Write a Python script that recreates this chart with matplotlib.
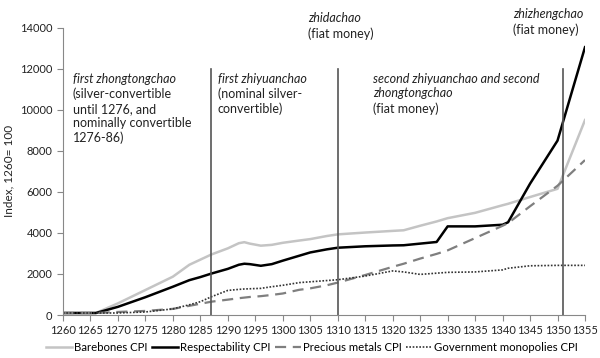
import matplotlib
matplotlib.use('Agg')
import matplotlib.pyplot as plt

plt.rcParams['font.family'] = ['Lato', 'DejaVu Sans']

# Data (index, 1260 = 100)
years = [1260, 1266, 1270, 1275, 1280, 1283, 1285, 1287, 1290, 1292, 1293, 1294, 1296,
         1298, 1300, 1303, 1305, 1308, 1310, 1315, 1320, 1322, 1325, 1328, 1330, 1335,
         1340, 1341, 1345, 1350, 1355]
barebones = [100, 100, 570, 1220, 1870, 2450, 2700, 2950, 3250, 3500, 3550, 3480, 3380,
             3420, 3520, 3630, 3700, 3850, 3930, 4020, 4100, 4130, 4350, 4560, 4720, 4980,
             5350, 5420, 5750, 6150, 9500]
respectability = [100, 100, 400, 870, 1380, 1700, 1850, 2020, 2250, 2450, 2500, 2480, 2400,
                  2480, 2650, 2890, 3050, 3200, 3280, 3350, 3390, 3400, 3480, 3560, 4320, 4320,
                  4400, 4520, 6400, 8500, 13050]
precious = [100, 100, 150, 200, 300, 450, 550, 650, 750, 820, 850, 880, 920,
            980, 1050, 1230, 1300, 1450, 1580, 1950, 2350, 2500, 2750, 2980, 3150, 3750,
            4350, 4480, 5300, 6300, 7550]
monopolies = [100, 100, 100, 150, 300, 500, 650, 890, 1200, 1250, 1270, 1280, 1300,
              1380, 1450, 1580, 1620, 1680, 1720, 1900, 2150, 2100, 1980, 2040, 2080, 2100,
              2200, 2280, 2400, 2420, 2420]

regime_breaks = [1287, 1310, 1351]
regime_labels = [
    (1261.8, 11800, 'first zhongtongchao', '(silver-convertible\nuntil 1276, and\nnominally convertible\n1276-86)'),
    (1288.2, 11800, 'first zhiyuanchao', '(nominal silver-\nconvertible)'),
    (1304.6, 14750, 'zhidachao', '(fiat money)'),
    (1316.4, 11800, 'second zhiyuanchao and second\nzhongtongchao', '(fiat money)'),
    (1341.9, 14950, 'zhizhengchao', '(fiat money)'),
]

fig = plt.figure(figsize=(6, 3.58), dpi=100)
ax = fig.add_axes([0.105, 0.12, 0.87, 0.8026])

ax.plot(years, barebones, color='#c4c4c4', linewidth=1.8, label='Barebones CPI')
ax.plot(years, respectability, color='black', linewidth=1.8, label='Respectability CPI')
ax.plot(years, precious, color='#7f7f7f', linewidth=1.6, linestyle=(0, (5, 3)), label='Precious metals CPI')
ax.plot(years, monopolies, color='#333333', linewidth=1.2, linestyle=(0, (1, 1)), label='Government monopolies CPI')

for yr in regime_breaks:
    ax.plot([yr, yr], [0, 12000], color='#555555', linewidth=1.2)

for x, y, title, sub in regime_labels:
    n_title = title.count('\n') + 1
    ax.text(x, y, title, style='italic', fontsize=9, va='top', ha='left',
            color='#222222', linespacing=1.25, clip_on=False)
    ax.text(x, y - n_title * 720, sub, fontsize=9, va='top', ha='left',
            color='#222222', linespacing=1.25, clip_on=False)

ax.set_xlim(1260, 1355)
ax.set_ylim(0, 14000)
ax.set_xticks(range(1260, 1356, 5))
ax.set_yticks(range(0, 14001, 2000))
ax.tick_params(labelsize=8, length=4, color='#888888', labelcolor='#222222')
ax.set_ylabel('Index, 1260= 100', fontsize=8.5, color='#222222')
for side in ['top', 'right']:
    ax.spines[side].set_visible(False)
for side in ['left', 'bottom']:
    ax.spines[side].set_color('#888888')

fig.legend(loc='center', bbox_to_anchor=(0.52, 0.028), ncol=4, frameon=False,
           fontsize=8.2, handlelength=2.3, handletextpad=0.2, columnspacing=0.35,
           borderpad=0.1)

fig.savefig('out.png', dpi=100)
